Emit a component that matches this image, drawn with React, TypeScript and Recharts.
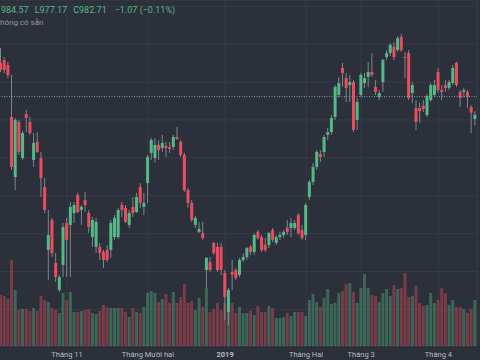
import React from 'react';
import { ComposedChart, Bar, XAxis, YAxis, CartesianGrid, ReferenceLine, Cell } from 'recharts';

// daily OHLC
const openPrices = [
  1010.1, 1011.6, 1009.0, 981.6, 949.9, 978.9, 959.9, 983.1, 978.9, 958.9,
  968.4, 959.9, 944.6, 911.4, 927.2, 904.5, 890.3, 903.5, 925.6, 924.6,
  930.9, 940.4, 932.5, 937.8, 930.9, 918.2, 913.0, 913.0, 910.3, 911.4,
  911.4, 918.2, 918.2, 935.1, 933.5, 924.6, 934.1, 931.4, 944.6, 934.1,
  946.7, 962.6, 959.9, 966.8, 965.2, 966.3, 965.7, 965.7, 971.0, 968.4,
  961.5, 943.0, 936.2, 924.6, 920.9, 920.3, 900.8, 905.0, 915.1, 913.0,
  913.0, 899.2, 878.7, 899.8, 900.8, 898.2, 906.1, 907.7, 913.0, 910.3,
  920.9, 918.2, 914.0, 914.0, 921.9, 915.1, 918.2, 919.3, 923.0, 923.0,
  923.0, 929.8, 921.9, 919.3, 939.3, 947.3, 955.2, 962.0, 963.1, 972.1,
  973.6, 981.6, 993.2, 1007.4, 1002.1, 998.4, 1000.0, 980.0, 993.2, 999.5,
  1002.7, 1005.3, 997.4, 992.1, 1000.0, 1013.2, 1015.3, 1018.5, 1016.9, 1023.8,
  1013.2, 1015.3, 994.2, 986.3, 986.3, 987.4, 982.6, 990.5, 993.2, 1005.3,
  995.8, 998.4, 996.9, 999.5, 1010.1, 994.8, 994.8, 994.8, 986.8, 980.5,
];
const highPrices = [
  1018.0, 1013.2, 1010.6, 1003.7, 981.0, 980.0, 974.2, 985.3, 981.6, 973.1,
  973.6, 963.1, 949.4, 932.5, 928.3, 909.8, 898.2, 925.6, 928.3, 936.7,
  936.7, 941.5, 935.1, 942.0, 932.5, 928.8, 928.3, 915.1, 911.4, 914.0,
  927.2, 929.8, 933.5, 936.7, 935.1, 932.5, 939.3, 941.5, 946.7, 941.5,
  961.5, 970.5, 970.5, 969.4, 972.1, 968.4, 968.4, 972.1, 976.3, 969.4,
  962.6, 944.1, 937.8, 929.3, 926.2, 926.2, 907.7, 907.7, 915.6, 915.1,
  915.1, 900.8, 891.3, 906.1, 901.9, 907.2, 909.8, 913.0, 914.0, 920.3,
  921.9, 919.3, 917.7, 920.9, 923.0, 919.3, 920.9, 921.9, 927.2, 928.3,
  927.2, 930.9, 924.6, 936.2, 948.3, 957.3, 964.1, 964.1, 972.1, 975.8,
  982.6, 998.4, 1002.7, 1010.1, 1004.8, 1003.7, 1001.1, 991.6, 1004.8, 1004.8,
  1010.6, 1015.3, 1001.1, 995.8, 1012.2, 1016.9, 1020.6, 1021.1, 1024.3, 1025.4,
  1015.9, 1016.9, 1000.0, 990.5, 988.9, 990.5, 993.7, 999.5, 1001.1, 1007.4,
  998.4, 1001.1, 1001.1, 1009.0, 1010.6, 995.8, 996.9, 995.8, 987.9, 984.57,
];
const lowPrices = [
  1005.3, 1004.8, 1002.1, 953.6, 943.0, 961.5, 958.9, 973.6, 972.1, 955.2,
  962.6, 939.3, 930.9, 895.5, 907.7, 894.5, 889.2, 897.1, 897.1, 897.1,
  925.6, 930.9, 924.6, 931.4, 920.3, 913.0, 909.8, 906.1, 901.9, 905.0,
  907.2, 916.7, 917.2, 928.8, 925.6, 923.0, 928.8, 930.9, 933.5, 929.8,
  936.2, 958.9, 957.3, 958.9, 963.1, 960.5, 962.6, 964.1, 969.4, 960.5,
  942.0, 933.5, 926.2, 923.0, 920.3, 916.7, 891.9, 899.8, 908.7, 899.8,
  898.2, 874.4, 871.8, 890.3, 895.5, 897.1, 905.0, 906.1, 908.7, 908.7,
  916.7, 910.3, 910.3, 912.4, 915.6, 914.0, 916.7, 917.7, 919.3, 918.2,
  921.9, 919.3, 916.7, 916.7, 937.8, 945.7, 953.6, 957.8, 960.5, 969.4,
  972.1, 980.0, 992.1, 997.4, 989.5, 989.5, 973.6, 974.7, 992.1, 996.9,
  997.4, 1002.7, 993.2, 990.5, 994.8, 1011.6, 1013.7, 1011.6, 1015.9, 1015.9,
  1002.1, 990.5, 988.9, 974.7, 978.4, 984.2, 981.6, 989.5, 992.1, 994.2,
  990.5, 994.8, 995.8, 998.4, 997.4, 986.8, 992.1, 986.3, 973.1, 977.17,
];
const closePrices = [
  1006.4, 1006.4, 1003.7, 955.2, 980.0, 963.1, 973.1, 981.0, 973.1, 967.8,
  963.1, 949.4, 932.5, 919.3, 909.8, 897.1, 897.1, 923.5, 916.7, 934.1,
  935.1, 931.4, 934.1, 935.1, 923.5, 927.2, 926.2, 909.8, 906.1, 906.1,
  925.6, 928.3, 932.5, 932.5, 926.2, 930.9, 930.9, 939.3, 936.2, 936.2,
  960.5, 969.4, 966.8, 964.1, 967.8, 965.2, 964.7, 971.0, 970.0, 961.5,
  943.0, 936.2, 927.2, 928.3, 922.5, 917.7, 907.2, 900.8, 909.8, 900.8,
  900.8, 886.6, 890.3, 898.2, 896.6, 906.1, 907.7, 912.4, 910.3, 919.3,
  917.7, 911.4, 911.4, 920.3, 916.7, 918.2, 919.3, 920.9, 920.9, 925.6,
  925.6, 920.3, 917.7, 935.1, 947.3, 955.2, 963.1, 960.5, 971.0, 973.6,
  981.0, 997.4, 999.5, 1004.8, 996.9, 1000.0, 974.7, 989.5, 1003.7, 1002.1,
  1005.3, 1003.7, 994.8, 994.2, 1011.6, 1015.3, 1019.6, 1013.2, 1023.2, 1016.9,
  1012.7, 991.6, 998.4, 978.9, 984.7, 985.8, 992.6, 998.4, 998.4, 995.8,
  994.8, 996.9, 1000.0, 1007.4, 998.4, 991.6, 995.8, 992.1, 983.78, 982.71,
];
// million shares
const volumes = [
  204, 200, 188, 344, 224, 144, 148, 148, 140, 152,
  140, 200, 184, 176, 152, 144, 132, 212, 184, 216,
  136, 136, 140, 144, 148, 132, 128, 140, 164, 156,
  152, 152, 152, 152, 136, 116, 152, 136, 132, 156,
  212, 220, 212, 176, 188, 208, 172, 216, 172, 196,
  248, 172, 180, 144, 192, 156, 236, 136, 148, 172,
  144, 172, 196, 172, 132, 156, 132, 132, 140, 124,
  160, 136, 136, 160, 152, 112, 112, 116, 132, 120,
  136, 136, 136, 120, 184, 208, 176, 156, 192, 228,
  168, 172, 212, 220, 248, 252, 216, 172, 232, 288,
  232, 204, 200, 176, 212, 228, 200, 244, 228, 232,
  292, 196, 200, 240, 172, 160, 164, 212, 172, 184,
  232, 212, 164, 184, 156, 156, 148, 132, 148, 184,
];

const firstSession = '2018-10-08';
const holidays = ['2019-01-01', '2019-02-04', '2019-02-05', '2019-02-06', '2019-02-07', '2019-02-08', '2019-04-15'];
const monthNames = ['2019', 'Tháng Hai', 'Tháng 3', 'Tháng 4', 'Tháng 5', 'Tháng 6', 'Tháng 7', 'Tháng 8', 'Tháng 9', 'Tháng 10', 'Tháng 11', 'Tháng Mười hai'];
const priceTicks = [880, 900, 920, 940, 960, 980, 1000, 1020, 1040];
const priceLine = 992.3;

const UP = '#53b987';
const DOWN = '#eb4d5c';
const WICK = '#82858f';
const BG = '#2c303a';
const GRID = '#373b47';

function sessions(start: string, count: number) {
  const out: string[] = [];
  const d = new Date(start + 'T00:00:00Z');
  while (out.length < count) {
    const iso = d.toISOString().slice(0, 10);
    const wd = d.getUTCDay();
    if (wd !== 0 && wd !== 6 && !holidays.includes(iso)) out.push(iso);
    d.setUTCDate(d.getUTCDate() + 1);
  }
  return out;
}

const dates = sessions(firstSession, openPrices.length);
const data = dates.map((date, i) => ({
  date,
  open: openPrices[i],
  high: highPrices[i],
  low: lowPrices[i],
  close: closePrices[i],
  range: [lowPrices[i], highPrices[i]],
  volume: volumes[i],
  up: closePrices[i] >= openPrices[i],
}));
const monthStarts = dates.filter((d, i) => i > 0 && d.slice(5, 7) !== dates[i - 1].slice(5, 7));

const Candle = (props: any) => {
  const { x, y, width, height, payload } = props;
  if (!payload) return null;
  const top = Math.min(y, y + height);
  const span = Math.abs(height);
  const { open, close, high, low } = payload;
  const k = high === low ? 0 : span / (high - low);
  const py = (v: number) => top + (high - v) * k;
  const bodyTop = py(Math.max(open, close));
  const bodyH = Math.max(1, py(Math.min(open, close)) - bodyTop);
  const cx = x + width / 2;
  return (
    <g>
      <line x1={cx} x2={cx} y1={top} y2={top + span} stroke={WICK} strokeWidth={1} />
      <rect x={x} y={bodyTop} width={width} height={bodyH} fill={close >= open ? UP : DOWN} />
    </g>
  );
};

// axis band starts at y = 346; labels sit centred around y = 354
const MonthTick = (props: any) => {
  const { x, payload } = props;
  const [yr, m] = String(payload.value).split('-');
  const label = m === '01' ? yr : monthNames[Number(m) - 1];
  return (
    <text x={x} y={356.5} textAnchor="middle" fill="#b8bbc3" fontSize={7.5} fontFamily="Roboto, sans-serif" fontWeight={m === '01' ? 700 : 400}>
      {label}
    </text>
  );
};

export default function App() {
  return (
    <div style={{ position: 'absolute', left: 0, top: 0, width: 480, height: 360, background: BG, overflow: 'hidden' }}>
      <ComposedChart width={480} height={360} data={data} margin={{ top: 0, right: 3, bottom: 0, left: -1 }}>
        <XAxis xAxisId="price" dataKey="date" hide />
        <XAxis
          xAxisId="vol"
          dataKey="date"
          ticks={monthStarts}
          interval={0}
          axisLine={false}
          tickLine={false}
          tickSize={0}
          tickMargin={0}
          height={14}
          tick={<MonthTick />}
        />
        <YAxis yAxisId="price" domain={[860.7, 1043.3]} ticks={priceTicks} allowDataOverflow hide />
        <YAxis yAxisId="vol" domain={[0, 1384]} allowDataOverflow hide />
        <CartesianGrid xAxisId="vol" yAxisId="price" stroke={GRID} />
        <Bar xAxisId="vol" yAxisId="vol" dataKey="volume" barSize={3} isAnimationActive={false}>
          {data.map((d, i) => (
            <Cell key={i} fill={d.up ? UP : DOWN} fillOpacity={0.4} />
          ))}
        </Bar>
        <ReferenceLine xAxisId="price" yAxisId="price" y={priceLine} stroke="#7fa39b" strokeDasharray="1 1.5" />
        <Bar xAxisId="price" yAxisId="price" dataKey="range" barSize={3} shape={<Candle />} isAnimationActive={false} />
      </ComposedChart>
      <div style={{ position: 'absolute', left: 1, top: 5, fontSize: 9, lineHeight: '11px', color: UP, fontFamily: 'Roboto, sans-serif', whiteSpace: 'pre' }}>
        <span>984.57</span>
        <span style={{ marginLeft: 6 }}>L977.17</span>
        <span style={{ marginLeft: 6 }}>C982.71</span>
        <span style={{ marginLeft: 8 }}>−1.07 (−0.11%)</span>
      </div>
      <div style={{ position: 'absolute', left: 0, top: 18, fontSize: 8, lineHeight: '10px', color: '#9598a1', fontFamily: 'Roboto, sans-serif', whiteSpace: 'pre' }}>
        hông có sẵn
      </div>
    </div>
  );
}
